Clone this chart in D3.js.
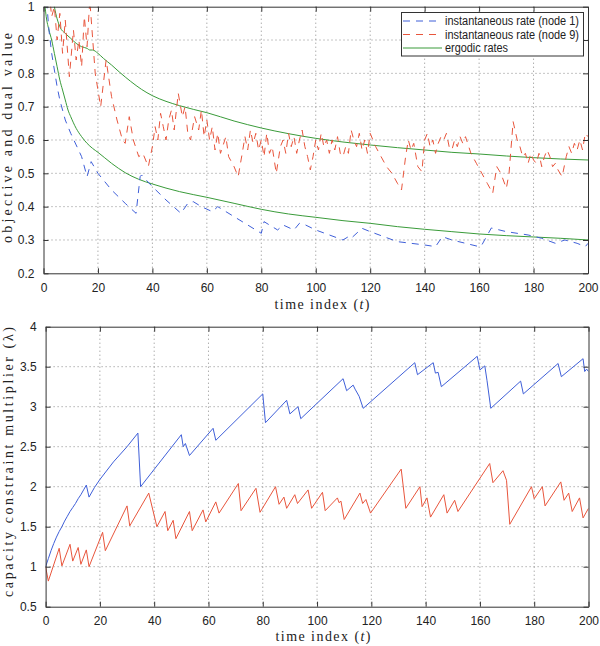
<!DOCTYPE html>
<html><head><meta charset="utf-8">
<script src="https://cdn.jsdelivr.net/npm/d3@7"></script>
<style>
html,body{margin:0;padding:0;background:#fff;}
svg{display:block;}
.tick text{font-family:"Liberation Sans",Arial,sans-serif;font-size:12px;fill:#222;}
</style></head><body>
<svg id="chart" width="600" height="646"></svg>
<script>
// ---------- DATA ----------
// Top panel: objective and dual value
const topXTicks = [0,20,40,60,80,100,120,140,160,180,200];
const topYTicks = [0.2,0.3,0.4,0.5,0.6,0.7,0.8,0.9,1];
const legendLabels = ["instantaneous rate (node 1)","instantaneous rate (node 9)","ergodic rates"];

const node1T = [0,1,2,3,4,5,6,7,8,10,12,14,16,17.5,20,25,30,34,35.5,36,40,45,50.5,53,55,58,62,64,65,70,75,80,81,86,88,92,94,95,100,105,110,112,113,117,120,125,130,135,140,144,146.5,150,155,160,161,164.5,170,178,183,188,191.5,196,199,200];
const node1V = [1.25,1.03,0.93,0.86,0.81,0.76,0.72,0.69,0.66,0.62,0.585,0.55,0.49,0.535,0.5,0.45,0.41,0.38,0.49,0.495,0.46,0.42,0.38,0.41,0.415,0.40,0.385,0.40,0.395,0.37,0.345,0.32,0.355,0.33,0.345,0.33,0.35,0.35,0.33,0.315,0.30,0.31,0.305,0.335,0.325,0.31,0.295,0.29,0.285,0.28,0.31,0.30,0.29,0.28,0.285,0.336,0.325,0.315,0.305,0.29,0.30,0.29,0.28,0.29];

const node9T = [0,2,3,4,5,6,7,8,9.5,11,12,13,14,15,16,17,19,21,23,25,27,29,30,31.5,33,35,36.5,38.5,40,41,42,43,44,45,46,47,48,49.5,51,52,53,54,55.5,57,58,59,60,61,62,63,64,65,67,68,70,71.5,73,74,75,76,77,78,79,80,81,82,83,84,85.5,87,88,89,90,91,92,93,94,95,96,97,98,99,100,101,102,103,104,105,106,107,108,109,110,111,112,113,114,115,116,117,118,119,120,122,124,126,128,130,131.5,133,134,135,136,137.5,139,140,141,142,143,144,145,146,147,148,149,150,151,152,153,154,155,157,159,161,163,165,166.5,168,170,171,172.5,174,175,176,177,178,179,180,181,182,183,184,185,186,187,188,189,190.5,192,193,194,195,196,197,198,199,200];
const node9V = [1.2,1.05,0.97,1.0,0.9,0.98,0.86,0.96,0.79,0.93,0.84,0.9,0.82,0.97,0.88,1.02,0.8,0.70,0.84,0.73,0.66,0.6,0.59,0.67,0.6,0.55,0.56,0.52,0.58,0.64,0.6,0.68,0.64,0.6,0.66,0.69,0.63,0.74,0.67,0.7,0.62,0.6,0.67,0.63,0.69,0.61,0.66,0.6,0.64,0.57,0.62,0.56,0.61,0.55,0.52,0.49,0.56,0.61,0.57,0.63,0.59,0.62,0.57,0.6,0.55,0.62,0.56,0.58,0.5,0.58,0.6,0.56,0.62,0.58,0.61,0.56,0.6,0.63,0.58,0.55,0.51,0.55,0.6,0.57,0.62,0.58,0.6,0.56,0.6,0.57,0.61,0.56,0.55,0.58,0.56,0.63,0.6,0.58,0.62,0.57,0.6,0.56,0.62,0.58,0.55,0.52,0.5,0.47,0.45,0.55,0.6,0.57,0.59,0.52,0.505,0.6,0.62,0.58,0.6,0.56,0.59,0.61,0.6,0.62,0.58,0.57,0.6,0.58,0.61,0.59,0.61,0.56,0.53,0.5,0.47,0.44,0.52,0.5,0.455,0.5,0.655,0.6,0.58,0.55,0.56,0.53,0.56,0.54,0.53,0.56,0.52,0.55,0.57,0.55,0.52,0.53,0.51,0.49,0.55,0.58,0.56,0.59,0.57,0.6,0.57,0.62,0.61];

const ergodic9T = [0,4,6,8,10,12,14,16,17,18,20,22,25,28,32,36,40,45,50,55,60,70,80,90,100,110,120,130,140,150,160,170,180,190,200];
const ergodic9V = [1.3,1.0,0.94,0.92,0.905,0.89,0.88,0.875,0.87,0.87,0.86,0.845,0.825,0.803,0.776,0.752,0.733,0.716,0.703,0.692,0.682,0.657,0.636,0.619,0.605,0.594,0.585,0.577,0.57,0.563,0.558,0.552,0.547,0.543,0.54];

const ergodic1T = [0,1,2,3,4,5,6,7,8,9,10,12,14,16,18,20,25,30,35,40,50,60,70,80,90,100,110,120,130,140,150,160,170,180,190,200];
const ergodic1V = [1.05,0.97,0.93,0.9,0.86,0.82,0.78,0.75,0.72,0.69,0.67,0.635,0.61,0.59,0.575,0.563,0.53,0.502,0.482,0.468,0.445,0.428,0.41,0.392,0.378,0.368,0.358,0.35,0.34,0.332,0.325,0.318,0.313,0.309,0.305,0.30];

// Bottom panel: capacity constraint multiplier
const botXTicks = [0,20,40,60,80,100,120,140,160,180,200];
const botYTicks = [0.5,1,1.5,2,2.5,3,3.5,4];

const lambda1T = [0,1,2,3,4,5,6,7,8,9,10,11,12,13,14,15,16,18,20,25,30,34,35,50,50.7,51.5,53,61.7,62.7,80,81,88.8,90,93,94,109.6,110.9,113.3,114,115.5,117,136,137,142.8,143.6,144.6,145.8,159,160,161.8,162.6,164,175,176,188.8,190,198,198.6,199.3,200];
const lambda1V = [1.0,1.1,1.2,1.29,1.37,1.44,1.5,1.57,1.63,1.69,1.74,1.79,1.85,1.9,1.96,2.02,1.87,1.99,2.09,2.31,2.5,2.67,2.0,2.65,2.5,2.54,2.39,2.73,2.58,3.16,2.8,3.08,2.91,3.0,2.85,3.35,3.2,3.27,3.22,3.13,2.98,3.55,3.4,3.55,3.42,3.43,3.25,3.63,3.46,3.51,3.33,2.98,3.32,3.16,3.54,3.375,3.6,3.44,3.47,3.44];

const lambda9T = [0,1,5,6,9,10,12,13,15,16,21,22,30,31,38,41,44,45,47,48,53,54,58,59,62.7,63.9,71,72,77.5,79,84.7,86,87.8,88.8,91.8,92.8,96.7,98,102,103,107.5,108.1,108.8,110,115.8,116.8,118,119.7,131,132.7,137.9,138.7,140.5,141.8,146.7,147.9,150.7,151.9,163.6,164.8,168.5,169.8,171,179,180,183,184,189.8,191,192.7,194,196.7,198,200];
const lambda9V = [1.0,0.82,1.23,1.01,1.28,1.07,1.24,1.03,1.21,1.0,1.43,1.2,1.76,1.51,1.92,1.5,1.69,1.45,1.58,1.35,1.69,1.45,1.71,1.56,1.81,1.67,2.04,1.70,1.98,1.68,2.0,1.78,1.87,1.73,1.90,1.79,1.96,1.73,1.93,1.70,1.86,1.8,1.82,1.59,1.92,1.79,1.84,1.67,2.22,1.73,2.0,1.75,1.86,1.62,1.90,1.67,1.83,1.69,2.29,2.05,2.2,2.08,1.53,2.0,1.85,2.0,1.76,2.06,1.83,1.92,1.69,1.86,1.61,1.73];

// ---------- STYLE ----------
const BLUE = "#3f5fd8", RED = "#e8553c", GREEN = "#3a9b3a";
const svg = d3.select("#chart");
const zip = (T,V) => T.map((t,i)=>[t,V[i]]);

function panel(o){
  const g = svg.append("g");
  const x = d3.scaleLinear().domain([0,200]).range([o.left,o.right]);
  const y = d3.scaleLinear().domain(o.ydom).range([o.bottom,o.top]);
  const id = "clip"+o.name;
  svg.append("clipPath").attr("id",id).append("rect")
    .attr("x",o.left).attr("y",o.top).attr("width",o.right-o.left).attr("height",o.bottom-o.top);
  // grid
  g.append("g").selectAll("line").data(o.xticks.slice(1,-1)).join("line")
    .attr("x1",d=>x(d)).attr("x2",d=>x(d)).attr("y1",o.top).attr("y2",o.bottom)
    .attr("stroke","#8a8a8a").attr("stroke-width",1).attr("stroke-dasharray","1,3");
  g.append("g").selectAll("line").data(o.yticks.slice(1,-1)).join("line")
    .attr("y1",d=>y(d)).attr("y2",d=>y(d)).attr("x1",o.left).attr("x2",o.right)
    .attr("stroke","#8a8a8a").attr("stroke-width",1).attr("stroke-dasharray","1,3");
  // series
  const lg = g.append("g").attr("clip-path",`url(#${id})`);
  o.series.forEach(s=>{
    const line = d3.line().x(d=>x(d[0])).y(d=>y(d[1])).curve(s.smooth ? d3.curveMonotoneX : d3.curveLinear);
    lg.append("path").attr("d",line(s.data)).attr("fill","none")
      .attr("stroke",s.color).attr("stroke-width",1)
      .attr("stroke-dasharray",s.dash||null);
  });
  // axes (ticks inward)
  const ax = (gen, tr) => g.append("g").attr("transform",tr).call(gen)
    .call(a=>a.select(".domain").attr("stroke","#333"))
    .call(a=>a.selectAll(".tick line").attr("stroke","#333"));
  ax(d3.axisBottom(x).tickValues(o.xticks).tickSizeInner(-5).tickSizeOuter(0).tickPadding(10).tickFormat(d3.format("d")), `translate(0,${o.bottom})`);
  ax(d3.axisTop(x).tickValues(o.xticks).tickSizeInner(-5).tickSizeOuter(0).tickFormat(""), `translate(0,${o.top})`);
  ax(d3.axisLeft(y).tickValues(o.yticks).tickSizeInner(-5).tickSizeOuter(0).tickPadding(9).tickFormat(d=>String(d)), `translate(${o.left},0)`);
  ax(d3.axisRight(y).tickValues(o.yticks).tickSizeInner(-5).tickSizeOuter(0).tickFormat(""), `translate(${o.right},0)`);
  // labels
  g.append("text").attr("x",o.xlabX).attr("y",o.xlabY).attr("text-anchor","middle")
    .attr("font-family","'Liberation Serif','DejaVu Serif',serif").attr("font-size",14).attr("fill","#222")
    .attr("textLength",o.xlabLen).attr("lengthAdjust","spacing")
    .html('time index (<tspan font-style="italic">t</tspan>)');
  g.append("text").attr("transform",`translate(${o.ylabX},${o.ylabY}) rotate(-90)`).attr("text-anchor","middle")
    .attr("font-family","'Liberation Serif','DejaVu Serif',serif").attr("font-size",14).attr("fill","#222")
    .attr("textLength",o.ylabLen).attr("lengthAdjust","spacing")
    .html(o.ylab);
  return {x,y,g};
}

const topP = panel({name:"top",left:43.5,right:588,top:6.7,bottom:273.3,ydom:[0.2,1],
  xticks:topXTicks,yticks:topYTicks,xlabX:322,xlabY:309,xlabLen:95,ylabX:12,ylabY:138,ylabLen:210,
  ylab:"objective and dual value",
  series:[
    {data:zip(ergodic9T,ergodic9V),color:GREEN,smooth:true},
    {data:zip(ergodic1T,ergodic1V),color:GREEN,smooth:true},
    {data:zip(node1T,node1V),color:BLUE,dash:"7,6"},
    {data:zip(node9T,node9V),color:RED,dash:"7,6"}
  ]});

// legend
const lg = topP.g.append("g");
lg.append("rect").attr("x",401.5).attr("y",12.5).attr("width",182).attr("height",43.5)
  .attr("fill","#fff").attr("stroke","#333").attr("stroke-width",1);
const legColors = [BLUE,RED,GREEN], legDash = ["7,6","7,6",null], legY=[21,34.5,48], legLen=[134,134,63];
legendLabels.forEach((l,i)=>{
  lg.append("line").attr("x1",403).attr("x2",442).attr("y1",legY[i]).attr("y2",legY[i])
    .attr("stroke",legColors[i]).attr("stroke-width",1).attr("stroke-dasharray",legDash[i]);
  lg.append("text").attr("x",445).attr("y",legY[i]+4).attr("font-family","'Liberation Sans',Arial,sans-serif")
    .attr("font-size",12).attr("fill","#222").attr("textLength",legLen[i]).attr("lengthAdjust","spacingAndGlyphs").text(l);
});

panel({name:"bot",left:45.6,right:588.5,top:326.7,bottom:606.7,ydom:[0.5,4],
  xticks:botXTicks,yticks:botYTicks,xlabX:323,xlabY:641,xlabLen:95,ylabX:13,ylabY:462,ylabLen:270,
  ylab:'capacity constraint multiplier (λ)',
  series:[
    {data:zip(lambda1T,lambda1V),color:BLUE},
    {data:zip(lambda9T,lambda9V),color:RED}
  ]});
</script></body></html>
